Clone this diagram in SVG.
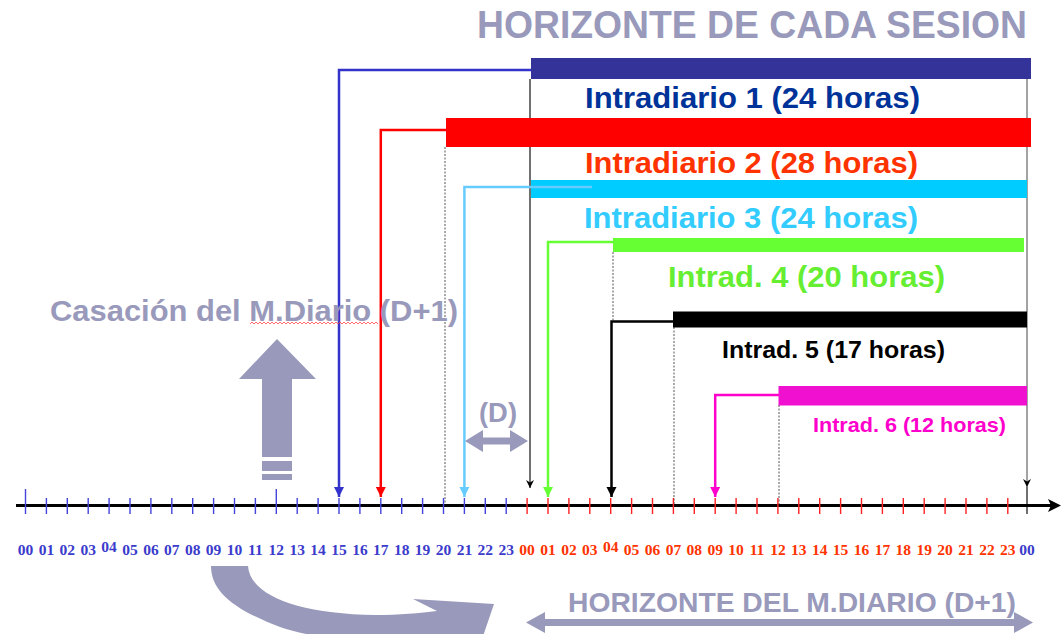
<svg xmlns="http://www.w3.org/2000/svg" width="1061" height="634" viewBox="0 0 1061 634">
<style>
.t{font-family:"Liberation Sans",Arial,sans-serif;font-weight:bold}
.g{fill:#9999bb}
.lb{font-family:"Liberation Serif","Times New Roman",serif;font-weight:bold;font-size:15.5px;text-anchor:middle}
.lbB{fill:#3b3bcc}
.lbR{fill:#ff3300}
.tkB{stroke:#4444dd;stroke-width:1.4}
.tkR{stroke:#ff2222;stroke-width:1.4}
.dot{stroke:#555;stroke-width:1;stroke-dasharray:2 1.5;fill:none}
.con{fill:none;stroke-width:2.5}
</style>
<defs>
<marker id="mBlue" viewBox="0 0 10 10" refX="10" refY="5" markerWidth="10" markerHeight="11" markerUnits="userSpaceOnUse" orient="auto"><path d="M0,0 L10,5 L0,10 z" fill="#3333cc"/></marker>
<marker id="mRed" viewBox="0 0 10 10" refX="10" refY="5" markerWidth="10" markerHeight="11" markerUnits="userSpaceOnUse" orient="auto"><path d="M0,0 L10,5 L0,10 z" fill="#ff0000"/></marker>
<marker id="mCyan" viewBox="0 0 10 10" refX="10" refY="5" markerWidth="10" markerHeight="11" markerUnits="userSpaceOnUse" orient="auto"><path d="M0,0 L10,5 L0,10 z" fill="#66ccff"/></marker>
<marker id="mGreen" viewBox="0 0 10 10" refX="10" refY="5" markerWidth="10" markerHeight="11" markerUnits="userSpaceOnUse" orient="auto"><path d="M0,0 L10,5 L0,10 z" fill="#66ff33"/></marker>
<marker id="mBlack" viewBox="0 0 10 10" refX="10" refY="5" markerWidth="10" markerHeight="11" markerUnits="userSpaceOnUse" orient="auto"><path d="M0,0 L10,5 L0,10 z" fill="#000"/></marker>
<marker id="mMag" viewBox="0 0 10 10" refX="10" refY="5" markerWidth="10" markerHeight="11" markerUnits="userSpaceOnUse" orient="auto"><path d="M0,0 L10,5 L0,10 z" fill="#ff00cc"/></marker>
<marker id="mSmall" viewBox="0 0 10 10" refX="10" refY="5" markerWidth="8" markerHeight="8" markerUnits="userSpaceOnUse" orient="auto"><path d="M0,0 L10,5 L0,10 L3,5 z" fill="#000"/></marker>
</defs>
<rect width="1061" height="634" fill="#fff"/>

<text class="t g" x="477" y="38" font-size="39" textLength="550" lengthAdjust="spacingAndGlyphs">HORIZONTE DE CADA SESION</text>

<g id="guides">
<line x1="530" y1="79" x2="530" y2="488" stroke="#111" stroke-width="1.2" marker-end="url(#mSmall)"/>
<line x1="1027" y1="79" x2="1027" y2="487" stroke="#666" stroke-width="1.2" marker-end="url(#mSmall)"/>
<line x1="1027" y1="487" x2="1027" y2="514" stroke="#333" stroke-width="1.4"/>
<line class="dot" x1="445" y1="147" x2="445" y2="505"/>
<line class="dot" x1="613" y1="252" x2="613" y2="321"/>
<line class="dot" x1="674" y1="327" x2="674" y2="505"/>
<line class="dot" x1="779" y1="405" x2="779" y2="505"/>
</g>

<g id="connectors">
<path class="con" stroke="#3333cc" d="M531,70 H339 V497" marker-end="url(#mBlue)"/>
<path class="con" stroke="#ff0000" d="M446,130 H380.8 V497" marker-end="url(#mRed)"/>
<path class="con" stroke="#66ccff" d="M592,187 H464.4 V497" marker-end="url(#mCyan)"/>
<path class="con" stroke="#66ff33" d="M613,242 H548 V497" marker-end="url(#mGreen)"/>
<path class="con" stroke="#000" stroke-width="2" d="M673,321.5 H611.5 V497" marker-end="url(#mBlack)"/>
<path class="con" stroke="#ff00cc" d="M779,395 H715.2 V497" marker-end="url(#mMag)"/>
</g>

<g id="intradiario1">
<rect x="531" y="58" width="500" height="21" fill="#333399"/>
<text class="t" x="585" y="108" font-size="29" fill="#003399" textLength="335" lengthAdjust="spacingAndGlyphs">Intradiario 1 (24 horas)</text>
</g>
<g id="intradiario2">
<rect x="446" y="118" width="585" height="29" fill="#ff0000"/>
<text class="t" x="585" y="173" font-size="29" fill="#ff3300" textLength="333" lengthAdjust="spacingAndGlyphs">Intradiario 2 (28 horas)</text>
</g>
<g id="intradiario3">
<rect x="531" y="180" width="496" height="18" fill="#00ccff"/>
<line x1="531" y1="187" x2="592" y2="187" stroke="#66ccff" stroke-width="2.5"/>
<text class="t" x="584" y="228" font-size="29" fill="#33ccff" textLength="334" lengthAdjust="spacingAndGlyphs">Intradiario 3 (24 horas)</text>
</g>
<g id="intrad4">
<rect x="613" y="238" width="411" height="14" fill="#66ff33"/>
<text class="t" x="668" y="287" font-size="29" fill="#66ee33" textLength="277" lengthAdjust="spacingAndGlyphs">Intrad. 4 (20 horas)</text>
</g>
<g id="intrad5">
<rect x="673" y="311.5" width="354" height="16" fill="#000"/>
<text class="t" x="722" y="358" font-size="24" fill="#000" textLength="223" lengthAdjust="spacingAndGlyphs">Intrad. 5 (17 horas)</text>
</g>
<g id="intrad6">
<rect x="778.5" y="386" width="248.5" height="19.5" fill="#f010d0"/>
<text class="t" x="813" y="432" font-size="21" fill="#ff00cc" textLength="193" lengthAdjust="spacingAndGlyphs">Intrad. 6 (12 horas)</text>
</g>

<g id="casacion">
<text class="t g" x="50" y="321" font-size="29" textLength="408" lengthAdjust="spacingAndGlyphs">Casación del M.Diario (D+1)</text>
<path d="M250,324 l2,-2 l2,2 l2,-2 l2,2 l2,-2 l2,2 l2,-2 l2,2 l2,-2 l2,2 l2,-2 l2,2 l2,-2 l2,2 l2,-2 l2,2 l2,-2 l2,2 l2,-2 l2,2 l2,-2 l2,2 l2,-2 l2,2 l2,-2 l2,2 l2,-2 l2,2 l2,-2 l2,2 l2,-2 l2,2 l2,-2 l2,2 l2,-2 l2,2 l2,-2 l2,2 l2,-2 l2,2 l2,-2 l2,2 l2,-2 l2,2 l2,-2 l2,2 l2,-2 l2,2 l2,-2 l2,2 l2,-2 l2,2 l2,-2 l2,2 l2,-2 l2,2 l2,-2 l2,2 l2,-2 l2,2 l2,-2 l2,2 l2,-2 l2,2" fill="none" stroke="#ff4444" stroke-width="0.8"/>
<polygon class="g" points="277,339 316,379 292,379 292,457 262,457 262,379 239,379"/>
<rect class="g" x="262" y="461" width="30" height="10"/>
<rect class="g" x="262" y="474" width="30" height="6"/>
</g>

<g id="d-interval">
<text class="t g" x="479" y="422" font-size="28" textLength="38" lengthAdjust="spacingAndGlyphs">(D)</text>
<polygon class="g" points="465,441 483,430 483,437.5 510,437.5 510,430 528,441 510,452 510,444.5 483,444.5 483,452"/>
</g>

<g id="axis">
<line x1="16" y1="505.5" x2="1052" y2="505.5" stroke="#000" stroke-width="3"/>
<path d="M1061,505.5 L1048,499 L1051,505.5 L1048,512 z" fill="#000"/>
<g class="tkB">
<line x1="25.5" y1="489" x2="25.5" y2="514"/><line x1="46.4" y1="498" x2="46.4" y2="514"/><line x1="67.3" y1="498" x2="67.3" y2="514"/><line x1="88.2" y1="498" x2="88.2" y2="514"/><line x1="109.1" y1="498" x2="109.1" y2="514"/><line x1="130" y1="498" x2="130" y2="514"/><line x1="150.9" y1="498" x2="150.9" y2="514"/><line x1="171.8" y1="498" x2="171.8" y2="514"/><line x1="192.7" y1="498" x2="192.7" y2="514"/><line x1="213.6" y1="498" x2="213.6" y2="514"/><line x1="234.5" y1="498" x2="234.5" y2="514"/><line x1="255.4" y1="498" x2="255.4" y2="514"/><line x1="276.3" y1="489" x2="276.3" y2="514"/><line x1="297.2" y1="498" x2="297.2" y2="514"/><line x1="318.1" y1="498" x2="318.1" y2="514"/><line x1="339" y1="498" x2="339" y2="514"/><line x1="359.9" y1="498" x2="359.9" y2="514"/><line x1="380.8" y1="498" x2="380.8" y2="514"/><line x1="401.7" y1="498" x2="401.7" y2="514"/><line x1="422.6" y1="498" x2="422.6" y2="514"/><line x1="443.5" y1="498" x2="443.5" y2="514"/><line x1="464.4" y1="498" x2="464.4" y2="514"/><line x1="485.3" y1="498" x2="485.3" y2="514"/><line x1="506.2" y1="498" x2="506.2" y2="514"/>
</g>
<g class="tkR">
<line x1="527.1" y1="498" x2="527.1" y2="514"/><line x1="548" y1="498" x2="548" y2="514"/><line x1="568.9" y1="498" x2="568.9" y2="514"/><line x1="589.8" y1="498" x2="589.8" y2="514"/><line x1="610.7" y1="498" x2="610.7" y2="514"/><line x1="631.6" y1="498" x2="631.6" y2="514"/><line x1="652.5" y1="498" x2="652.5" y2="514"/><line x1="673.4" y1="498" x2="673.4" y2="514"/><line x1="694.3" y1="498" x2="694.3" y2="514"/><line x1="715.2" y1="498" x2="715.2" y2="514"/><line x1="736.1" y1="498" x2="736.1" y2="514"/><line x1="757" y1="498" x2="757" y2="514"/><line x1="777.9" y1="498" x2="777.9" y2="514"/><line x1="798.8" y1="498" x2="798.8" y2="514"/><line x1="819.7" y1="498" x2="819.7" y2="514"/><line x1="840.6" y1="498" x2="840.6" y2="514"/><line x1="861.5" y1="498" x2="861.5" y2="514"/><line x1="882.4" y1="498" x2="882.4" y2="514"/><line x1="903.3" y1="498" x2="903.3" y2="514"/><line x1="924.2" y1="498" x2="924.2" y2="514"/><line x1="945.1" y1="498" x2="945.1" y2="514"/><line x1="966" y1="498" x2="966" y2="514"/><line x1="986.9" y1="498" x2="986.9" y2="514"/><line x1="1007.8" y1="498" x2="1007.8" y2="514"/>
</g>
<g class="lb lbB">
<text x="25.5" y="555">00</text><text x="46.4" y="555">01</text><text x="67.3" y="555">02</text><text x="88.2" y="555">03</text><text x="109.1" y="552">04</text><text x="130" y="555">05</text><text x="150.9" y="555">06</text><text x="171.8" y="555">07</text><text x="192.7" y="555">08</text><text x="213.6" y="555">09</text><text x="234.5" y="555">10</text><text x="255.4" y="555">11</text><text x="276.3" y="555">12</text><text x="297.2" y="555">13</text><text x="318.1" y="555">14</text><text x="339" y="555">15</text><text x="359.9" y="555">16</text><text x="380.8" y="555">17</text><text x="401.7" y="555">18</text><text x="422.6" y="555">19</text><text x="443.5" y="555">20</text><text x="464.4" y="555">21</text><text x="485.3" y="555">22</text><text x="506.2" y="555">23</text><text x="1027" y="555">00</text>
</g>
<g class="lb lbR">
<text x="527.1" y="555">00</text><text x="548" y="555">01</text><text x="568.9" y="555">02</text><text x="589.8" y="555">03</text><text x="610.7" y="552">04</text><text x="631.6" y="555">05</text><text x="652.5" y="555">06</text><text x="673.4" y="555">07</text><text x="694.3" y="555">08</text><text x="715.2" y="555">09</text><text x="736.1" y="555">10</text><text x="757" y="555">11</text><text x="777.9" y="555">12</text><text x="798.8" y="555">13</text><text x="819.7" y="555">14</text><text x="840.6" y="555">15</text><text x="861.5" y="555">16</text><text x="882.4" y="555">17</text><text x="903.3" y="555">18</text><text x="924.2" y="555">19</text><text x="945.1" y="555">20</text><text x="966" y="555">21</text><text x="986.9" y="555">22</text><text x="1007.8" y="555">23</text>
</g>
</g>

<g id="curved-arrow">
<path class="g" d="M211,566 H248 C250,596 300,614 375,615 C400,615 420,613 437,611 L413,599 L494,604 L480,645 L460,636 C420,642 330,645 280,627 C235,610 211,592 211,566 Z"/>
</g>

<g id="horizonte-diario">
<text class="t g" x="568" y="612" font-size="28" textLength="448" lengthAdjust="spacingAndGlyphs">HORIZONTE DEL M.DIARIO (D+1)</text>
<polygon class="g" points="526,622.5 545,612 545,619 1014,619 1014,612 1033,622.5 1014,633 1014,626 545,626 545,633"/>
</g>
</svg>
